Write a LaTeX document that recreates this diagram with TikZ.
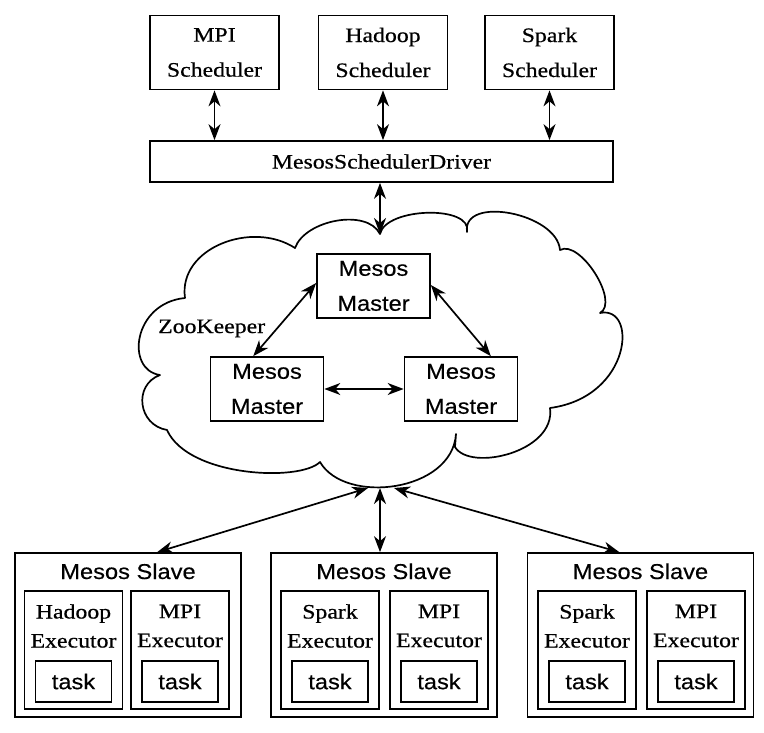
\documentclass[tikz,border=0pt]{standalone}
\usepackage{fontspec}
\setmainfont{Liberation Serif}[FakeStretch=1.16,FakeBold=0.6]
\setsansfont{Liberation Sans}[FakeStretch=1.1,FakeBold=0.4]
\usetikzlibrary{arrows.meta,calc}
\newcommand\rmA{\fontsize{20.5}{35}\selectfont\rmfamily}
\newcommand\rmB{\fontsize{20.5}{29}\selectfont\rmfamily}
\newcommand\sfA{\fontsize{21.5}{35}\selectfont\sffamily}
\begin{document}
\begin{tikzpicture}[x=1pt,y=-1pt,
  pbox/.style={draw, line width=1.7pt, inner sep=0pt},
  sched/.style={pbox, minimum width=129pt, minimum height=74pt, align=center, font=\rmA},
  master/.style={pbox, minimum width=113pt, minimum height=64pt, align=center, font=\sfA},
  slave/.style={pbox, minimum width=226pt, minimum height=164pt},
  exec/.style={pbox, minimum width=98pt, minimum height=118pt},
  exectext/.style={inner sep=0pt, align=center, font=\rmB},
  taskbox/.style={pbox, minimum width=76pt, minimum height=41pt, font=\sfA},
  title/.style={inner sep=0pt, font=\sfA, anchor=base},
  arr/.style={{Stealth[length=16pt,width=12pt,inset=5pt]}-{Stealth[length=16pt,width=12pt,inset=5pt]}, line width=1.7pt},
  cloudline/.style={line width=1.7pt, line join=round}]
\useasboundingbox (0,0) rectangle (764,733);

% cloud
\draw[cloudline] (380,234)
 .. controls (386,207) and (473,205) .. (467,232)
 .. controls (462,195) and (557,213) .. (560,250)
 .. controls (580,239) and (620,302) .. (600,313)
 .. controls (638,305) and (632,397) .. (550,408)
 .. controls (556,452) and (470,472) .. (455,447)
 -- (456,434)
 .. controls (452,492) and (345,505) .. (320,462)
 .. controls (300,482) and (188,477) .. (167,430)
 .. controls (138,425) and (133,385) .. (160,375)
 .. controls (125,370) and (133,303) .. (185,298)
 .. controls (178,248) and (252,220) .. (295,248)
 .. controls (305,220) and (367,208) .. (380,234)
 -- cycle;
\coordinate (ctop) at (380,234);
\coordinate (cb) at (380,488);

% schedulers
\node[sched] (mpi) at (214.5,52.5) {MPI\\Scheduler};
\node[sched] (hadoop) at (383,52.5) {Hadoop\\Scheduler};
\node[sched] (spark) at (549.5,52.5) {Spark\\Scheduler};
\node[pbox, minimum width=463pt, minimum height=41pt, font=\rmA] (drv) at (381.5,161.5) {MesosSchedulerDriver};

\draw[arr] (mpi.south) -- (mpi.south |- drv.north);
\draw[arr] (hadoop.south) -- (hadoop.south |- drv.north);
\draw[arr] (spark.south) -- (spark.south |- drv.north);
\draw[arr] (drv.south -| ctop) -- (ctop);

% masters
\node[master] (mt) at (373.5,286) {Mesos\\Master};
\node[master] (ml) at (267,389) {Mesos\\Master};
\node[master] (mr) at (461,389) {Mesos\\Master};
\node[inner sep=0pt, font=\rmA, anchor=base west] (zk) at (158,333) {ZooKeeper};

\draw[arr] ($(mt.west)+(0,-3)$) -- ($(ml.north west)!0.38!(ml.north east)$);
\draw[arr] ($(mt.east)+(0,-1)$) -- ($(mr.north west)!0.76!(mr.north east)$);
\draw[arr] (ml.east) -- (mr.west);

% slaves
\node[slave] (sl) at (128,635) {};
\node[slave] (sm) at (384,635) {};
\node[slave] (sr) at (640.5,635) {};
\node[title] (slt) at (128,579) {Mesos Slave};
\node[title] (smt) at (384,579) {Mesos Slave};
\node[title] (srt) at (640.5,579) {Mesos Slave};

% left slave
\node[exec] (sl1) at (73.5,650) {};
\node[exectext] (sl1x) at (73.5,626) {Hadoop\\Executor};
\node[taskbox] (sl1t) at (73.5,681.5) {task};
\node[exec] (sl2) at (180,650) {};
\node[exectext] (sl2x) at (180,626) {MPI\\Executor};
\node[taskbox] (sl2t) at (180,681.5) {task};
% middle slave
\node[exec] (sm1) at (330,650) {};
\node[exectext] (sm1x) at (330,626) {Spark\\Executor};
\node[taskbox] (sm1t) at (330,681.5) {task};
\node[exec] (sm2) at (439,650) {};
\node[exectext] (sm2x) at (439,626) {MPI\\Executor};
\node[taskbox] (sm2t) at (439,681.5) {task};
% right slave
\node[exec] (sr1) at (587,650) {};
\node[exectext] (sr1x) at (587,626) {Spark\\Executor};
\node[taskbox] (sr1t) at (587,681.5) {task};
\node[exec] (sr2) at (696,650) {};
\node[exectext] (sr2x) at (696,626) {MPI\\Executor};
\node[taskbox] (sr2t) at (696,681.5) {task};

% cloud to slaves
\draw[arr] ($(cb)+(-12,0)$) -- ($(sl.north west)!0.628!(sl.north east)$);
\draw[arr] (cb) -- (cb |- sm.north);
\draw[arr] ($(cb)+(14,0)$) -- ($(sr.north west)!0.407!(sr.north east)$);
\end{tikzpicture}
\end{document}
